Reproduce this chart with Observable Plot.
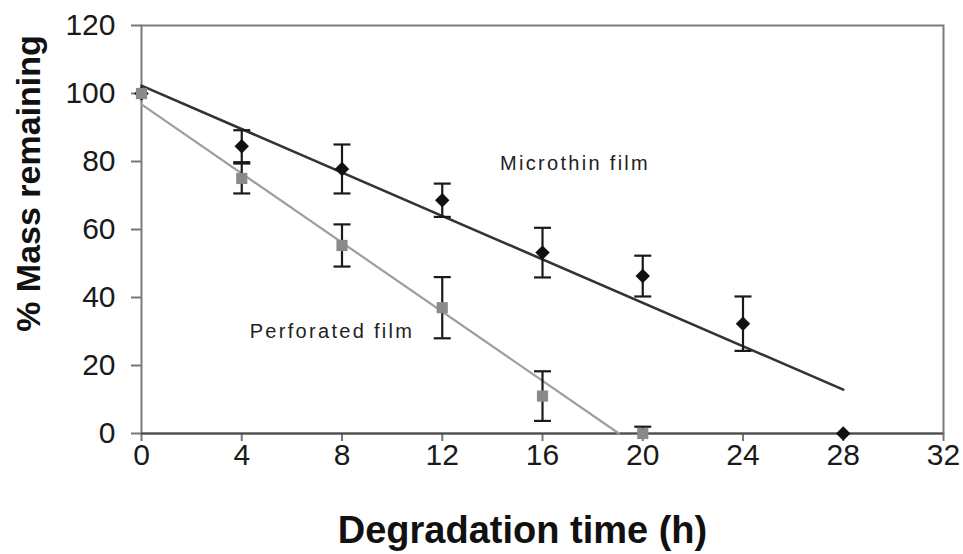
<!DOCTYPE html>
<html>
<head>
<meta charset="utf-8">
<script src="https://cdn.jsdelivr.net/npm/d3@7"></script>
<script src="https://cdn.jsdelivr.net/npm/@observablehq/plot@0.6"></script>
<style>
  html, body { margin: 0; padding: 0; background: #fff; }
</style>
</head>
<body>
<div id="chart"></div>
<script>
// ---- data ----
const xTicks = [0, 4, 8, 12, 16, 20, 24, 28, 32];
const yTicks = [0, 20, 40, 60, 80, 100, 120];

// Microthin film (black diamonds)
const timeMicro = [0, 4, 8, 12, 16, 20, 24, 28];
const massMicro = [100, 84.5, 77.8, 68.6, 53.2, 46.3, 32.3, 0];
const errMicro  = [0, 4.7, 7.2, 4.9, 7.3, 6, 8, 0];

// Perforated film (grey squares)
const timePerf = [0, 4, 8, 12, 16, 20];
const massPerf = [100, 75, 55.3, 37, 11, 0];
const errPerf  = [0, 4.4, 6.2, 9, 7.3, 2];

// fitted regression lines (end points)
const fitTimeMicro = [0, 28];
const fitMassMicro = [102.3, 12.9];
const fitTimePerf  = [0, 19.05];
const fitMassPerf  = [96.8, 0];

// series labels
const labelText = ["Microthin film", "Perforated film"];
const labelTime = [17.3, 7.6];
const labelMass = [79.5, 29.9];

// ---- tables ----
const micro = timeMicro.map((t, i) => ({t, m: massMicro[i], e: errMicro[i]}));
const perf  = timePerf.map((t, i) => ({t, m: massPerf[i], e: errPerf[i]}));
const fitMicro = fitTimeMicro.map((t, i) => ({t, m: fitMassMicro[i]}));
const fitPerf  = fitTimePerf.map((t, i) => ({t, m: fitMassPerf[i]}));
const labels = labelText.map((s, i) => ({s, t: labelTime[i], m: labelMass[i]}));
const bars = [...micro, ...perf].filter(d => d.e > 0);

const capSymbol = {
  draw(context, size) {
    const r = Math.sqrt(size / Math.PI);
    context.moveTo(-r, 0);
    context.lineTo(r, 0);
  }
};

const chart = Plot.plot({
  width: 963,
  height: 554,
  marginLeft: 141,
  marginRight: 20,
  marginTop: 25,
  marginBottom: 121,
  style: {fontFamily: "'Liberation Sans', Arial, sans-serif", fontSize: "30px", color: "#1a1a1a", background: "#fff", overflow: "visible"},
  x: {domain: [0, 32], label: null},
  y: {domain: [0, 120], label: null},
  marks: [
    Plot.frame({stroke: "#7a7a7a", strokeWidth: 2}),
    Plot.axisX({ticks: xTicks, tickSize: 8, tickPadding: 2, stroke: "#777", strokeWidth: 2, label: null, fontSize: 30}),
    Plot.axisY({ticks: yTicks, tickSize: 10, tickPadding: 16, stroke: "#777", strokeWidth: 2, label: null, fontSize: 30}),
    Plot.ruleY([0], {stroke: "#4a4a4a", strokeWidth: 2}),
    Plot.line(fitPerf, {x: "t", y: "m", stroke: "#9e9e9e", strokeWidth: 2.2}),
    Plot.line(fitMicro, {x: "t", y: "m", stroke: "#333", strokeWidth: 2.6}),
    Plot.ruleX(bars, {x: "t", y1: d => d.m - d.e, y2: d => d.m + d.e, stroke: "#1a1a1a", strokeWidth: 2.2, clip: true}),
    Plot.dot(bars, {x: "t", y: d => d.m + d.e, symbol: capSymbol, r: 8.5, stroke: "#1a1a1a", strokeWidth: 2.2, fill: "none"}),
    Plot.dot(bars, {x: "t", y: d => d.m - d.e, symbol: capSymbol, r: 8.5, stroke: "#1a1a1a", strokeWidth: 2.2, fill: "none", clip: true}),
    Plot.dot(micro, {x: "t", y: "m", symbol: "diamond2", r: 6.5, fill: "#111", stroke: "none"}),
    Plot.dot(perf, {x: "t", y: "m", symbol: "square", r: 6.3, fill: "#8a8a8a", stroke: "none"}),
    Plot.text(labels, {x: "t", y: "m", text: "s", fontSize: 20, fill: "#222"}),
    Plot.text(["Degradation time (h)"], {frameAnchor: "bottom", textAnchor: "middle", lineAnchor: "middle", dx: -20, dy: 97, fontSize: 38, fontWeight: "bold", fill: "#111"}),
    Plot.text(["% Mass remaining"], {frameAnchor: "left", textAnchor: "middle", lineAnchor: "middle", rotate: -90, dx: -112, dy: -46, fontSize: 34, fontWeight: "bold", fill: "#111"})
  ]
});

d3.select(chart).selectAll("text")
  .filter(function() { return labelText.includes(this.textContent); })
  .attr("letter-spacing", "2.3px");

document.getElementById("chart").appendChild(chart);
</script>
</body>
</html>
